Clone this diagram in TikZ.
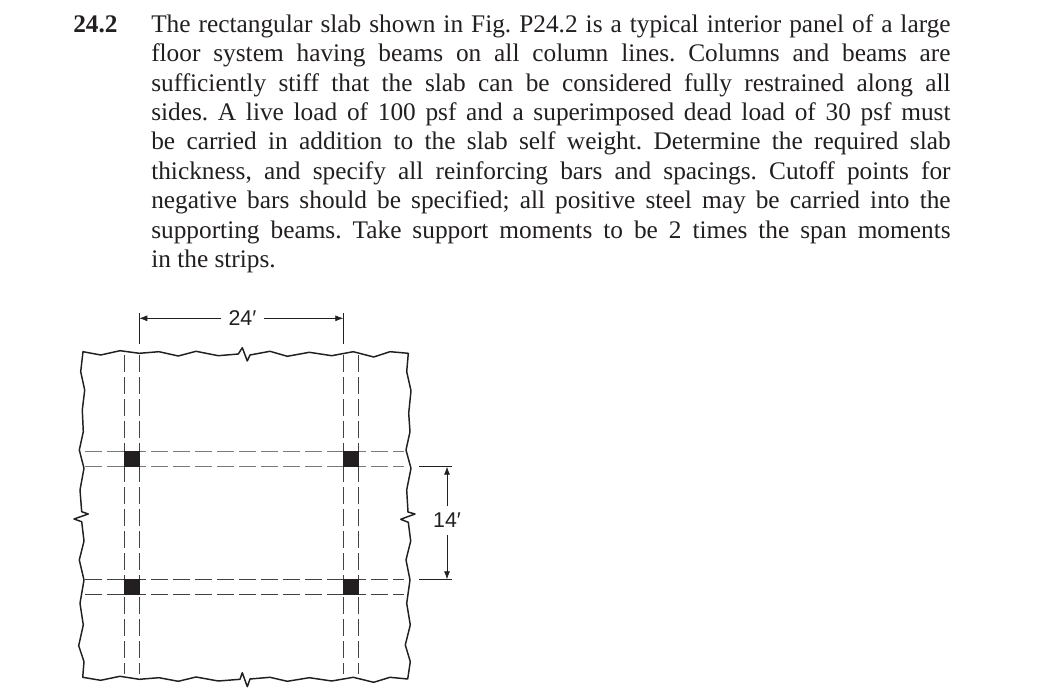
\documentclass[tikz,border=0pt]{standalone}
\usepackage{fontspec}
\setmainfont{Liberation Serif}
\setsansfont{Liberation Sans}
\usepackage{tikz}
\usetikzlibrary{arrows.meta}
\definecolor{ink}{HTML}{231F20}

\begin{document}
\begin{tikzpicture}[%
        x=0.75pt, y=-0.75pt,
        problem/.style={inner sep=0pt, text=ink, font=\fontsize{19}{22.03}\selectfont},
        slabedge/.style={draw=ink, line width=1.1pt, line join=round},
        beamline/.style={draw=ink!85, line width=0.6pt, dash pattern=on 12.75pt off 3.75pt},
        beamupper/.style={beamline, draw=ink!60, line width=0.75pt},
        dimline/.style={draw=ink, line width=0.55pt},
        dimarrow/.style={dimline, -{Latex[length=6pt,width=4.5pt]}},
        dimlabel/.style={inner sep=5.3pt, text=ink, font=\sffamily\fontsize{16}{18}\selectfont},
        column/.style={fill=ink, inner sep=0pt, minimum size=11.8pt},
    ]
    \useasboundingbox (0,0) rectangle (1057,698);

    \node[problem, anchor=base west] (number) at (73,32.5) {\textbf{24.2}};
    \node[problem, anchor=north west, text width=599.5pt, align=justify] (statement) at (151,14.3) {%
        \frenchspacing
        The rectangular slab shown in Fig.~P24.2 is a typical interior panel of a large\linebreak
        floor system having beams on all column lines. Columns and beams are\linebreak
        sufficiently stiff that the slab can be considered fully restrained along all\linebreak
        sides. A live load of 100 psf and a superimposed dead load of 30 psf must\linebreak
        be carried in addition to the slab self weight. Determine the required slab\linebreak
        thickness, and specify all reinforcing bars and spacings. Cutoff points for\linebreak
        negative bars should be specified; all positive steel may be carried into the\linebreak
        supporting beams. Take support moments to be 2 times the span moments\linebreak
        in the strips.\par
    };

    \draw[slabedge] (83,351.7) -- (100.7,355) -- (120,350.7) -- (139.3,353.3) -- (159,351.7)
        -- (178.3,356) -- (196,351.3) -- (218.3,355.7) -- (238.3,354) -- (242.3,347.7)
        -- (247.3,361) -- (250,355) -- (270,351.3) -- (287.3,356.3) -- (309.3,352.3)
        -- (331.7,355.7) -- (353.3,351.7) -- (373.7,357) -- (390,351.7) -- (408.3,353.3)
        -- (406.7,371.7) -- (411,390.7) -- (408.7,413.3) -- (410,431.7) -- (406,450)
        -- (411,468.3) -- (406.7,490) -- (408,512) -- (415,514) -- (400.7,519.3)
        -- (408.3,522.3) -- (410.7,541) -- (406,560) -- (410,580) -- (406.7,603.3)
        -- (410.3,625) -- (405.3,645) -- (410.3,661.7) -- (407.7,679) -- (390,677.3)
        -- (373.7,682.3) -- (353.3,677.3) -- (331.7,681) -- (309.3,677.7) -- (287.3,681.3)
        -- (270,677.3) -- (250,679) -- (247.3,686.7) -- (242.3,672.7) -- (240,679.3)
        -- (218.3,681) -- (196,677) -- (178.3,681.3) -- (159,677.7) -- (139.3,679.3)
        -- (120,676.3) -- (100.7,680.3) -- (82.7,677.3) -- (84,661.7) -- (78.7,645.7)
        -- (83.3,625) -- (80,603.3) -- (84,580) -- (79.3,560) -- (84,541) -- (81.7,521.7)
        -- (74,519) -- (88.3,514) -- (81.7,511.7) -- (80,490) -- (84,468.3) -- (79.3,450)
        -- (83.3,431.7) -- (82.3,410) -- (84.7,390) -- (80.7,371.7) -- cycle;

    \foreach \beamx in {124.3,139.3,343.3,358.3} {
        \draw[beamline] (\beamx,355) -- (\beamx,674);
    }
    \foreach \beamy in {451.7,466.7} {
        \draw[beamupper] (85,\beamy) -- (404,\beamy);
    }
    \foreach \beamy in {579.3,594.3} {
        \draw[beamline] (85,\beamy) -- (404,\beamy);
    }

    \node[column] (colA) at (132.2,459.3) {};
    \node[column] (colB) at (351.1,459.3) {};
    \node[column] (colC) at (132.2,586.8) {};
    \node[column] (colD) at (351.1,586.8) {};

    \coordinate (spanleft) at (139.3,318.3);
    \coordinate (spanright) at (343.3,318.3);
    \coordinate (spantopleft) at (139.3,313);
    \coordinate (spanbotleft) at (139.3,344);
    \coordinate (spantopright) at (343.3,313);
    \coordinate (spanbotright) at (343.3,344);
    \node[dimlabel] (span) at (242.5,318.3) {24′};
    \draw[dimline] (spantopleft) -- (spanbotleft);
    \draw[dimline] (spantopright) -- (spanbotright);
    \draw[dimarrow] (span) -- (spanleft);
    \draw[dimarrow] (span) -- (spanright);

    \coordinate (widthtop) at (447,466.7);
    \coordinate (widthbot) at (447,579.3);
    \coordinate (extAin) at (419,466.7);
    \coordinate (extAout) at (452,466.7);
    \coordinate (extBin) at (419,579.3);
    \coordinate (extBout) at (452,579.3);
    \node[dimlabel] (width) at (447,520.5) {14′};
    \draw[dimline] (extAin) -- (extAout);
    \draw[dimline] (extBin) -- (extBout);
    \draw[dimarrow] (width) -- (widthtop);
    \draw[dimarrow] (width) -- (widthbot);
\end{tikzpicture}
\end{document}
